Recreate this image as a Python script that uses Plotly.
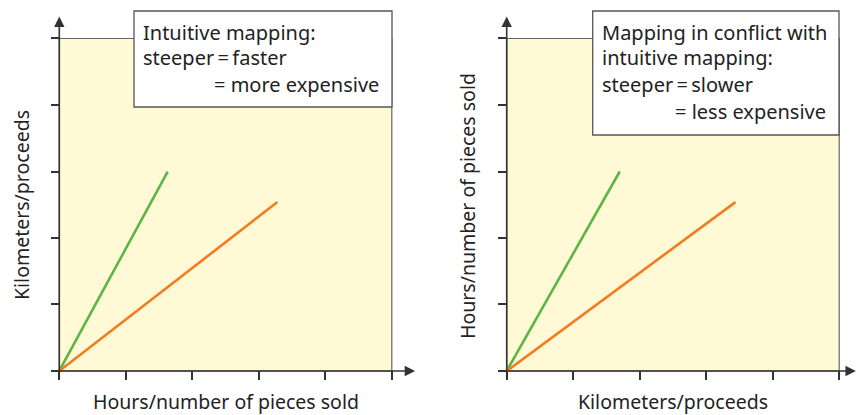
import plotly.graph_objects as go

W, H = 857, 415

# ---- data ----
tick_vals = [0, 1, 2, 3, 4, 5]
left_green_x = [0, 1.63]
left_green_y = [0, 3.0]
left_orange_x = [0, 3.28]
left_orange_y = [0, 2.54]
right_green_x = [0, 1.70]
right_green_y = [0, 3.0]
right_orange_x = [0, 3.44]
right_orange_y = [0, 2.54]

left_box_lines = ["Intuitive mapping:", "steeper\u2009=\u2009faster", "= more expensive"]
right_box_lines = ["Mapping in conflict with", "intuitive mapping:", "steeper\u2009=\u2009slower", "= less expensive"]
left_xtitle = "Hours/number of pieces sold"
left_ytitle = "Kilometers/proceeds"
right_xtitle = "Kilometers/proceeds"
right_ytitle = "Hours/number of pieces sold"

GREEN = "#5cb545"
ORANGE = "#f47b20"
FILL = "#fff9d6"
AX = "#333333"
FONT = "Noto Sans"
TXT = "#222222"

# ---- geometry (pixels) ----
unit = 66.5
neg = 0.13
lo_x, lo_y = 59.3, 371.0
ro_x, ro_y = 506.7, 371.0
x_hi_left = 5.35
x_hi_right = 5.26
y_hi = 5.33

def px(x):
    return x / W

def py(y):
    return 1 - y / H

fig = go.Figure()

fig.add_trace(go.Scatter(x=left_green_x, y=left_green_y, mode="lines",
                         line=dict(color=GREEN, width=2.6), xaxis="x", yaxis="y", showlegend=False))
fig.add_trace(go.Scatter(x=left_orange_x, y=left_orange_y, mode="lines",
                         line=dict(color=ORANGE, width=2.6), xaxis="x", yaxis="y", showlegend=False))
fig.add_trace(go.Scatter(x=right_green_x, y=right_green_y, mode="lines",
                         line=dict(color=GREEN, width=2.6), xaxis="x2", yaxis="y2", showlegend=False))
fig.add_trace(go.Scatter(x=right_orange_x, y=right_orange_y, mode="lines",
                         line=dict(color=ORANGE, width=2.6), xaxis="x2", yaxis="y2", showlegend=False))

ax_common = dict(showgrid=False, zeroline=False, showline=False, showticklabels=False,
                 ticks="inside", ticklen=neg * unit, tickwidth=1.6, tickcolor=AX,
                 tickvals=tick_vals, fixedrange=True)

y_dom = [py(lo_y + neg * unit), py(lo_y - y_hi * unit)]
fig.update_layout(
    width=W, height=H,
    margin=dict(l=0, r=0, t=0, b=0),
    paper_bgcolor="white", plot_bgcolor="white",
    xaxis=dict(domain=[px(lo_x - neg * unit), px(lo_x + x_hi_left * unit)],
               range=[-neg, x_hi_left], anchor="y", **ax_common),
    yaxis=dict(domain=y_dom, range=[-neg, y_hi], anchor="x", **ax_common),
    xaxis2=dict(domain=[px(ro_x - neg * unit), min(1.0, px(ro_x + x_hi_right * unit))],
                range=[-neg, x_hi_right], anchor="y2", **ax_common),
    yaxis2=dict(domain=y_dom, range=[-neg, y_hi], anchor="x2", **ax_common),
)

shapes = []
for xr, yr in (("x", "y"), ("x2", "y2")):
    shapes.append(dict(type="rect", xref=xr, yref=yr, x0=0, x1=tick_vals[-1], y0=0, y1=tick_vals[-1],
                       fillcolor=FILL, line=dict(color="#666666", width=1.2), layer="below"))

# text boxes
shapes.append(dict(type="rect", xref="paper", yref="paper",
                   x0=px(134), x1=px(392), y0=py(107), y1=py(11),
                   fillcolor="white", line=dict(color="#555555", width=1.3), layer="above"))
shapes.append(dict(type="rect", xref="paper", yref="paper",
                   x0=px(592.7), x1=px(839), y0=py(135), y1=py(11),
                   fillcolor="white", line=dict(color="#555555", width=1.3), layer="above"))
fig.update_layout(shapes=shapes)

ann = []
# axis arrows
for xr, yr, xhi in (("x", "y", x_hi_left), ("x2", "y2", x_hi_right - 0.01)):
    ann.append(dict(xref=xr, yref=yr, axref=xr, ayref=yr, x=xhi, y=0, ax=-neg, ay=0,
                    text="", showarrow=True, arrowhead=2, arrowsize=1.3, arrowwidth=1.6, arrowcolor=AX))
    ann.append(dict(xref=xr, yref=yr, axref=xr, ayref=yr, x=0, y=y_hi, ax=0, ay=-neg,
                    text="", showarrow=True, arrowhead=2, arrowsize=1.3, arrowwidth=1.6, arrowcolor=AX))

def txt(x, y, s, xanchor="left", angle=0, size=20):
    return dict(xref="paper", yref="paper", x=px(x), y=py(y), text=s, showarrow=False,
                xanchor=xanchor, yanchor="middle", textangle=angle,
                font=dict(family=FONT, size=size, color=TXT))

# left box text
ann.append(txt(141, 32, left_box_lines[0]))
ann.append(txt(141, 58, left_box_lines[1]))
ann.append(txt(212, 84, left_box_lines[2]))
# right box text
ann.append(txt(600, 32, right_box_lines[0]))
ann.append(txt(600, 58, right_box_lines[1]))
ann.append(txt(600, 84, right_box_lines[2]))
ann.append(txt(673, 111, right_box_lines[3]))

# axis titles
ann.append(txt(226, 401, left_xtitle, xanchor="center", size=19.5))
ann.append(txt(673, 401, right_xtitle, xanchor="center", size=19.5))
ann.append(txt(22, 205, left_ytitle, xanchor="center", angle=-90, size=19.5))
ann.append(txt(467, 206, right_ytitle, xanchor="center", angle=-90, size=19.5))

fig.update_layout(annotations=ann)

fig.write_html("out.html", config={"displayModeBar": False},
               post_script="document.body.style.margin='0';document.body.style.overflow='hidden';")
